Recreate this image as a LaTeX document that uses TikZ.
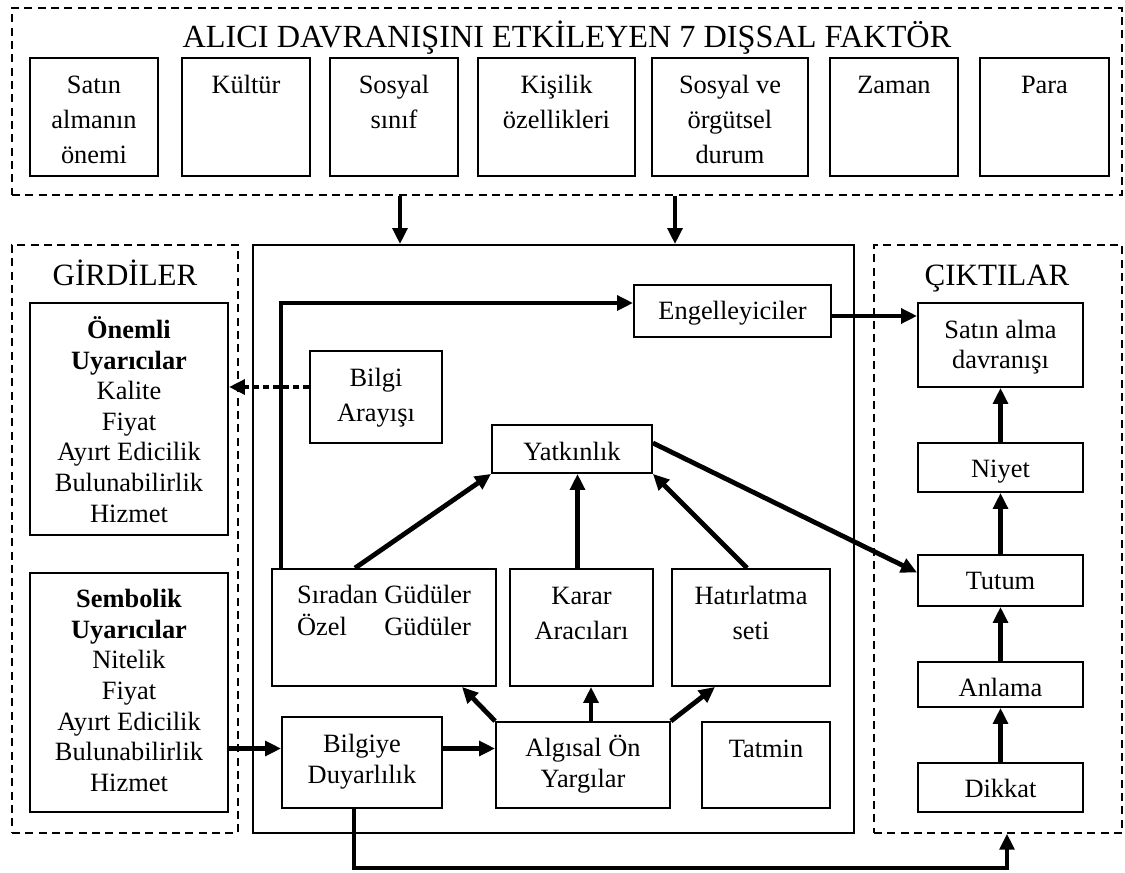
\documentclass[tikz,border=0pt]{standalone}
\usepackage{fontspec}
\setmainfont{Liberation Serif}
\usepackage{calc}
\usetikzlibrary{arrows.meta}

\newdimen\px \px=0.75pt

\tikzset{
  frame/.style={draw, line width=1.1pt, dash pattern=on 6pt off 4pt, inner sep=0pt},
  bx/.style={draw, line width=1.4pt, inner sep=0pt},
  lbl/.style={anchor=north, inner sep=0pt, align=center, font=\fontsize{19.8}{#1}\selectfont},
  lbl/.default=23pt,
  head/.style={anchor=base, inner sep=0pt, font=\fontsize{23.25}{28}\selectfont},
  link/.style={line width=3.6pt, -{Triangle[length=12pt,width=11pt]}},
  dotlink/.style={line width=3.6pt, dash pattern=on 4.5pt off 3pt, -{Triangle[length=12pt,width=11pt]}},
}

% box from its corners (x1,y1)-(x2,y2), in pixel units
\newcommand\mkbox[6][bx]{\node[#1, minimum width={(#5-#3)*0.75pt}, minimum height={(#6-#4)*0.75pt}] (#2) at ({(#3+#5)/2},{(#4+#6)/2}) {};}
% text hung from the top of a box: name, box, first baseline offset, line skip, text
\newcommand\mktext[5]{\node[lbl=#4] (#1) at (#2.north) {\rule{0pt}{#3\px}#5};}

\begin{document}
\begin{tikzpicture}[x=0.75pt,y=-0.75pt]
\useasboundingbox (0,0) rectangle (1125,873);

% ---- external factors ----
\mkbox[frame]{ext}{12}{8}{1122}{195}
\node[head, font=\fontsize{24.2}{28}\selectfont] (exttitle) at (567,48) {ALICI DAVRANIŞINI ETKİLEYEN 7 DIŞSAL FAKTÖR};

\mkbox{f1}{30}{58}{158}{176}
\mkbox{f2}{182}{58}{310}{176}
\mkbox{f3}{330}{58}{458}{176}
\mkbox{f4}{478}{58}{635}{176}
\mkbox{f5}{652}{58}{808}{176}
\mkbox{f6}{830}{58}{958}{176}
\mkbox{f7}{980}{58}{1109}{176}
\mktext{f1t}{f1}{36}{26.25pt}{Satın\\almanın\\önemi}
\mktext{f2t}{f2}{36}{26.25pt}{Kültür}
\mktext{f3t}{f3}{36}{26.25pt}{Sosyal\\sınıf}
\mktext{f4t}{f4}{36}{26.25pt}{Kişilik\\özellikleri}
\mktext{f5t}{f5}{36}{26.25pt}{Sosyal ve\\örgütsel\\durum}
\mktext{f6t}{f6}{36}{26.25pt}{Zaman}
\mktext{f7t}{f7}{36}{26.25pt}{Para}

% ---- inputs ----
\mkbox[frame]{inp}{12}{245}{238}{833}
\node[head] (inptitle) at (125,286) {GİRDİLER};
\mkbox{onem}{30}{303}{228}{535}
\mktext{onemt}{onem}{36}{23pt}{\textbf{Önemli}\\\textbf{Uyarıcılar}\\Kalite\\Fiyat\\Ayırt Edicilik\\Bulunabilirlik\\Hizmet}
\mkbox{sem}{30}{573}{228}{812}
\mktext{semt}{sem}{35}{23pt}{\textbf{Sembolik}\\\textbf{Uyarıcılar}\\Nitelik\\Fiyat\\Ayırt Edicilik\\Bulunabilirlik\\Hizmet}

% ---- processing ----
\mkbox{main}{253}{245}{854}{833}
\mkbox{eng}{634}{285}{831}{337}
\mktext{engt}{eng}{35}{23pt}{Engelleyiciler}
\mkbox{bara}{310}{351}{442}{443}
\mktext{barat}{bara}{36}{26.25pt}{Bilgi\\Arayışı}
\mkbox{yat}{492}{425}{652}{473}
\mktext{yatt}{yat}{36}{23pt}{Yatkınlık}
\mkbox{sira}{272}{569}{496}{686}
\mktext{sirat}{sira}{35}{24pt}{Sıradan Güdüler\\\makebox[\widthof{Sıradan Güdüler}][s]{Özel\hfill Güdüler}}
\mkbox{karar}{510}{569}{653}{686}
\mktext{karart}{karar}{36}{26.25pt}{Karar\\Aracıları}
\mkbox{hat}{672}{569}{830}{686}
\mktext{hatt}{hat}{36}{26.25pt}{Hatırlatma\\seti}
\mkbox{bduy}{282}{717}{442}{808}
\mktext{bduyt}{bduy}{36}{23.25pt}{Bilgiye\\Duyarlılık}
\mkbox{alg}{496}{722}{670}{808}
\mktext{algt}{alg}{35}{23.25pt}{Algısal Ön\\Yargılar}
\mkbox{tat}{702}{722}{830}{808}
\mktext{tatt}{tat}{36}{23pt}{Tatmin}

% ---- outputs ----
\mkbox[frame]{cik}{874}{245}{1122}{833}
\node[head] (ciktitle) at (997,286) {ÇIKTILAR};
\mkbox{sat}{918}{303}{1083}{387}
\mktext{satt}{sat}{36}{22.5pt}{Satın alma\\davranışı}
\mkbox{niy}{918}{443}{1083}{492}
\mktext{niyt}{niy}{35}{23pt}{Niyet}
\mkbox{tut}{918}{555}{1083}{606}
\mktext{tutt}{tut}{35}{23pt}{Tutum}
\mkbox{anl}{918}{662}{1083}{707}
\mktext{anlt}{anl}{35}{23pt}{Anlama}
\mkbox{dik}{918}{763}{1083}{812}
\mktext{dikt}{dik}{35}{23pt}{Dikkat}

% ---- connectors ----
\coordinate (ta) at ([xshift=-167\px]ext.south);
\coordinate (tb) at ([xshift=108\px]ext.south);
\draw[link] (ta) -- (ta |- main.north);
\draw[link] (tb) -- (tb |- main.north);

\draw[link] ([xshift=10\px]sira.north west) |- ([yshift=8\px]eng.west);
\coordinate (e1) at ([yshift=-5\px]eng.east);
\draw[link] (e1) -- (e1 -| sat.west);

\coordinate (d1) at ([yshift=10\px]bara.west);
\draw[dotlink] (d1) -- (d1 -| onem.east);

\draw[link] ([xshift=-29\px]sira.north) -- (yat.south west);
\coordinate (k1) at ([xshift=-4\px]karar.north);
\draw[link] (k1) -- (k1 |- yat.south);
\draw[link] ([xshift=-4\px]hat.north) -- (yat.south east);
\draw[link] ([yshift=6\px]yat.east) -- ([yshift=8\px]tut.west);

\draw[link] (niy.north) -- (sat.south);
\draw[link] (tut.north) -- (niy.south);
\draw[link] (anl.north) -- (tut.south);
\draw[link] (dik.north) -- (anl.south);

\coordinate (s1) at ([yshift=14\px]bduy.west);
\draw[link] (s1 -| sem.east) -- (s1);
\coordinate (s2) at ([yshift=14\px]bduy.east);
\draw[link] (s2) -- (s2 -| alg.west);

\draw[link] (alg.north west) -- ([xshift=78\px]sira.south);
\coordinate (a2) at ([xshift=8\px]alg.north);
\draw[link] (a2) -- (a2 |- karar.south);
\draw[link] (alg.north east) -- ([xshift=-36\px]hat.south);

\coordinate (b1) at ([xshift=-8\px]bduy.south);
\coordinate (c1) at ([xshift=9\px]cik.south);
\coordinate (loop) at (354,868);
\draw[link] (b1) -- (b1 |- loop) -| (c1);
\end{tikzpicture}
\end{document}
